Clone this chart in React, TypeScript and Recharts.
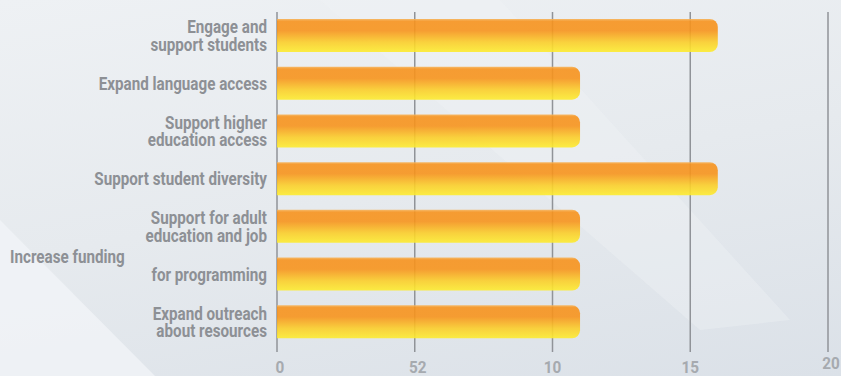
import React from "react";
import { BarChart, Bar, XAxis, YAxis, CartesianGrid } from "recharts";

const categories = [
  "Engage and\nsupport students",
  "Expand language access",
  "Support higher\neducation access",
  "Support student diversity",
  "Support for adult\neducation and job",
  "Increase funding\nfor programming",
  "Expand outreach\nabout resources",
];
const values = [16, 11, 11, 16, 11, 11, 11];
const xTicks = [0, 5, 10, 15, 20];
const xTickLabels = ["0", "52", "10", "15", "20"];

const data = categories.map((c, i) => ({ name: c, value: values[i] }));

const FONT = "Roboto, 'DejaVu Sans Condensed', sans-serif";
const SX = 0.845;

const Line = ({ x, y, anchor, children }: any) => (
  <g transform={`translate(${x},${y}) scale(${SX},1)`}>
    <text x={0} y={0} dy="0.35em" textAnchor={anchor}
      style={{ fontFamily: FONT, fontWeight: 700, fontSize: 18, fill: "#8d9095" }}>
      {children}
    </text>
  </g>
);

const YTick = (props: any) => {
  const { x, y, payload } = props;
  const lines: string[] = String(payload.value).split("\n");
  if (payload.value.startsWith("Increase funding")) {
    return (
      <g>
        <Line x={10} y={y - 18} anchor="start">{lines[0]}</Line>
        <Line x={x} y={y} anchor="end">{lines[1]}</Line>
      </g>
    );
  }
  const lh = 17.5;
  const start = y - ((lines.length - 1) * lh) / 2;
  return (
    <g>
      {lines.map((l, i) => (
        <Line key={i} x={x} y={start + i * lh} anchor="end">{l}</Line>
      ))}
    </g>
  );
};

const XTick = (props: any) => {
  const { x, y, payload, index } = props;
  const dx = index === 4 ? 3 : index === 0 || index === 1 ? 3 : 0;
  const dy = index === 4 ? -4 : 0;
  return (
    <g transform={`translate(${x + dx},${y + 13 + dy}) scale(0.9,1)`}>
      <text x={0} y={0} dy="0.35em" textAnchor="middle"
        style={{ fontFamily: FONT, fontWeight: 700, fontSize: 17, fill: "#a6aaaf" }}>
        {xTickLabels[xTicks.indexOf(payload.value)]}
      </text>
    </g>
  );
};

export default function App() {
  return (
    <div style={{ position: "absolute", left: 0, top: 0, width: 841, height: 376, overflow: "hidden",
      background: "linear-gradient(170deg, #eef1f4 0%, #e6eaee 50%, #dbe1e8 100%)" }}>
      <svg width={841} height={376} style={{ position: "absolute", left: 0, top: 0 }}>
        <polygon points="0,220 0,376 155,376" fill="#f1f4f7" opacity={0.8} />
        <polygon points="320,0 500,0 790,320 700,330" fill="#f0f3f6" opacity={0.35} />
      </svg>
      <div style={{ position: "absolute", left: 0, top: 0 }}>
        <BarChart width={841} height={376} data={data} layout="vertical"
          margin={{ top: 12, right: 13, left: 0, bottom: 0 }} barCategoryGap={0}>
          <defs>
            <linearGradient id="barGrad" x1="0" y1="0" x2="0" y2="1">
              <stop offset="0%" stopColor="#f7b45a" />
              <stop offset="7%" stopColor="#f7931e" />
              <stop offset="35%" stopColor="#f7941d" />
              <stop offset="70%" stopColor="#fbce2a" />
              <stop offset="100%" stopColor="#fdec30" />
            </linearGradient>
          </defs>
          <CartesianGrid horizontal={false} vertical stroke="#909398" strokeWidth={1.5} />
          <XAxis type="number" domain={[0, 20]} ticks={xTicks} axisLine={false}
            tickLine={{ stroke: "#909398", strokeWidth: 1.5 }} tickSize={6} height={30}
            tick={<XTick />} interval={0} />
          <YAxis type="category" dataKey="name" width={277} axisLine={false} tickLine={false}
            tick={<YTick />} tickSize={0} tickMargin={10} interval={0} />
          <Bar dataKey="value" barSize={33} fill="url(#barGrad)" fillOpacity={0.9}
            radius={[0, 8, 8, 0]} isAnimationActive={false} />
        </BarChart>
      </div>
    </div>
  );
}
